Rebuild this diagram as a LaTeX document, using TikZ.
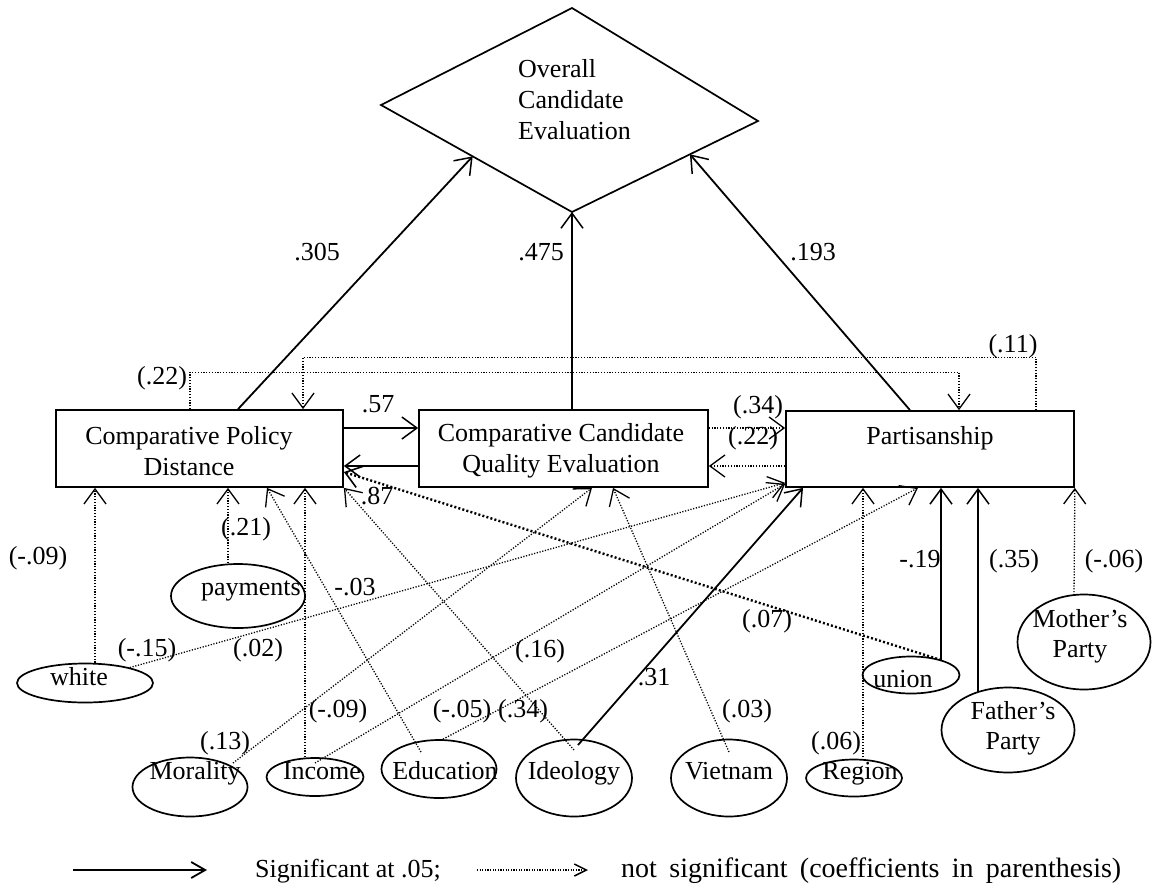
\documentclass[tikz,border=0pt]{standalone}
\usepackage{fontspec}
\setmainfont{Liberation Serif}
\usetikzlibrary{arrows.meta,shapes.geometric,calc}
\begin{document}
\begin{tikzpicture}[x=1pt,y=-1pt,
  font=\fontsize{26}{31}\selectfont,
  txt/.style={inner sep=0pt, text height=19pt, text depth=5pt},
  multi/.style={inner sep=0pt, align=center, font=\fontsize{26}{30}\selectfont},
  box/.style={draw, line width=1.7pt, rectangle, inner sep=0pt},
  oval/.style={draw, line width=1.7pt, ellipse, inner sep=0pt},
  sig/.style={line width=1.8pt, -{Straight Barb[length=15pt,width=22pt,line width=1.5pt]}},
  ns/.style={line width=1.3pt, dash pattern=on 1.2pt off 1.6pt, -{Straight Barb[length=15pt,width=22pt,line width=1.3pt]}},
  nsbold/.style={line width=2.4pt, dash pattern=on 2pt off 2.2pt, -{Straight Barb[length=15pt,width=22pt,line width=1.6pt]}},
  legsig/.style={line width=2pt, -{Straight Barb[length=14pt,width=16pt,line width=1.8pt]}},
  legns/.style={line width=1.3pt, dash pattern=on 1.2pt off 1.4pt, -{Straight Barb[length=12pt,width=12pt,line width=1.5pt]}},
]
\useasboundingbox (0,0) rectangle (1161,887);

% ---------- top diamond ----------
\coordinate (dT) at (572,8);
\coordinate (dL) at (381,105);
\coordinate (dR) at (758,121);
\coordinate (dB) at (572,212);
\draw[line width=1.7pt, line join=miter] (dT) -- (dR) -- (dB) -- (dL) -- cycle;
\node[inner sep=0pt, align=left, anchor=west] (ovrt) at (518,100) {Overall\\Candidate\\Evaluation};
\coordinate (dLa) at ($(dL)!0.48!(dB)$);
\coordinate (dRa) at ($(dB)!0.634!(dR)$);

% ---------- boxes ----------
\node[box, minimum width=287pt, minimum height=77pt] (cpd) at (199.5,448.5) {};
\node[box, minimum width=289pt, minimum height=77pt] (ccqe) at (563.5,448.5) {};
\node[box, minimum width=288pt, minimum height=76pt] (part) at (930,449) {};
\node[inner sep=0pt, align=center] (cpdt) at (189,451) {Comparative Policy\\Distance};
\node[inner sep=0pt, align=center] (ccqet) at (561,451) {Comparative Candidate\\Quality Evaluation};
\node[txt] (partt) at (930,437) {Partisanship};

% ---------- ellipses ----------
\node[oval, minimum width=136pt, minimum height=39pt] (white) at (85,683) {};
\node[oval, minimum width=134pt, minimum height=64pt] (payments) at (238,596) {};
\node[oval, minimum width=115pt, minimum height=59pt] (morality) at (190,787) {};
\node[oval, minimum width=97pt, minimum height=38pt] (income) at (315,777) {};
\node[oval, minimum width=115pt, minimum height=58pt] (education) at (439,769) {};
\node[oval, minimum width=116pt, minimum height=77pt] (ideology) at (574,778) {};
\node[oval, minimum width=116pt, minimum height=77pt] (vietnam) at (729,778) {};
\node[oval, minimum width=96pt, minimum height=37pt] (region) at (854,778) {};
\node[oval, minimum width=97pt, minimum height=37pt] (union) at (911,675) {};
\node[oval, minimum width=133pt, minimum height=85pt] (father) at (1008,730) {};
\node[oval, minimum width=133pt, minimum height=95pt] (mother) at (1084,642) {};

\node[txt] (whitet) at (79,678) {white};
\node[txt] (paymentst) at (251,588) {payments};
\node[txt] (moralityt) at (195,772) {Morality};
\node[txt] (incomet) at (322,772) {Income};
\node[txt] (educationt) at (445,772) {Education};
\node[txt] (ideologyt) at (574,772) {Ideology};
\node[txt] (vietnamt) at (729,772) {Vietnam};
\node[txt] (regiont) at (860,772) {Region};
\node[txt] (uniont) at (903,680) {union};
\node[multi] (fathert) at (1013,728) {Father’s\\Party};
\node[multi] (mothert) at (1080,636) {Mother’s\\Party};

% ---------- connectors to the diamond ----------
\draw[sig] ([xshift=38.5pt]cpd.north) -- (dLa);
\draw[sig] (ccqe.north -| dB) -- (dB);
\draw[sig] ([xshift=-20pt]part.north) -- (dRa);

% ---------- long dotted loops on top ----------
\draw[ns] ([xshift=-9.5pt]cpd.north) -- ++(0,-37) -| ([xshift=29pt]part.north);
\draw[ns] ([xshift=106pt]part.north) -- ++(0,-53) -| ([xshift=103.5pt]cpd.north);

% ---------- between the boxes ----------
\draw[sig] ([yshift=20.5pt]cpd.east) -- ([yshift=20.5pt]ccqe.west);
\draw[sig] ([yshift=-17.5pt]ccqe.west) -- ([yshift=-17.5pt]cpd.east);
\draw[ns] ([yshift=20.5pt]ccqe.east) -- ([yshift=21pt]part.west);
\draw[ns] ([yshift=-17pt]part.west) -- ([yshift=-17.5pt]ccqe.east);

% ---------- from the exogenous variables ----------
\draw[ns] (95,0 |- white.north) -- (95,0 |- cpd.south);
\draw[ns] (white.19) -- ([yshift=5pt]part.south west);
\draw[ns] (228,0 |- payments.north) -- (228,0 |- cpd.south);
\draw[ns] ([shift={(-18,-17)}]education.center) -- (267,0 |- cpd.south);
\draw[ns] (305,0 |- income.north) -- (305,0 |- cpd.south);
\draw[ns] ([yshift=28pt]ideology.center) -- (cpd.south east);
\draw[nsbold] ([shift={(30,-15)}]union.center) -- ([yshift=-23.5pt]cpd.east);
\draw[sig, line width=2.6pt] ([shift={(30,-15)}]union.center) -- (941,0 |- part.south);
\draw[sig] ([shift={(-30,-38)}]father.center) -- (978,0 |- part.south);
\draw[ns] ([shift={(-10,-47)}]mother.center) -- (part.south east);
\draw[ns] ([shift={(9,-18)}]region.center) -- (863,0 |- part.south);
\draw[ns] ([yshift=26pt]vietnam.center) -- (613,0 |- ccqe.south);
\draw[ns] ([shift={(43,-24)}]morality.center) -- (592,0 |- ccqe.south);
\draw[sig] ([shift={(4,-33)}]ideology.center) -- (803,0 |- part.south);
\draw[ns] ([xshift=4pt]education.north) -- (918,0 |- part.south);
\draw[ns] ([yshift=14pt]income.center) -- ([yshift=4pt]part.south west);

% ---------- coefficient labels ----------
\node[txt] (l305) at (317,253) {.305};
\node[txt] (l475) at (541,253) {.475};
\node[txt] (l193) at (813,253) {.193};
\node[txt] (l22a) at (162,377) {(.22)};
\node[txt] (l11) at (1013,345) {(.11)};
\node[txt] (l57) at (378,405) {.57};
\node[txt] (l87) at (377,497) {.87};
\node[txt] (l34a) at (758,406) {(.34)};
\node[txt] (l22b) at (753,437) {(.22)};
\node[txt] (l09a) at (38,557) {(-.09)};
\node[txt] (l21) at (246,528) {(.21)};
\node[txt] (l03a) at (355,588) {-.03};
\node[txt] (l15) at (147,649) {(-.15)};
\node[txt] (l02) at (258,649) {(.02)};
\node[txt] (l16) at (540,650) {(.16)};
\node[txt] (l09b) at (338,710) {(-.09)};
\node[txt] (l05) at (462,710) {(-.05)};
\node[txt] (l34b) at (523,710) {(.34)};
\node[txt] (l03b) at (747,710) {(.03)};
\node[txt] (l13) at (225,742) {(.13)};
\node[txt] (l06a) at (836,742) {(.06)};
\node[txt] (l31) at (654,678) {.31};
\node[txt] (l07) at (767,620) {(.07)};
\node[txt] (l19) at (920,560) {-.19};
\node[txt] (l35) at (1014,560) {(.35)};
\node[txt] (l06b) at (1114,560) {(-.06)};

% ---------- legend ----------
\coordinate (lg1) at (73,870);
\coordinate (lg2) at (207,870);
\coordinate (lg3) at (477,870);
\coordinate (lg4) at (588,870);
\draw[legsig] (lg1) -- (lg2);
\draw[legns] (lg3) -- (lg4);
\node[txt, anchor=west] (legt1) at (255,870) {Significant at .05;};
\node[txt, anchor=west, font=\fontsize{28}{31}\selectfont] (legt2) at (621,870) {\makebox[500pt][s]{not significant (coefficients in parenthesis)}};
\end{tikzpicture}
\end{document}
